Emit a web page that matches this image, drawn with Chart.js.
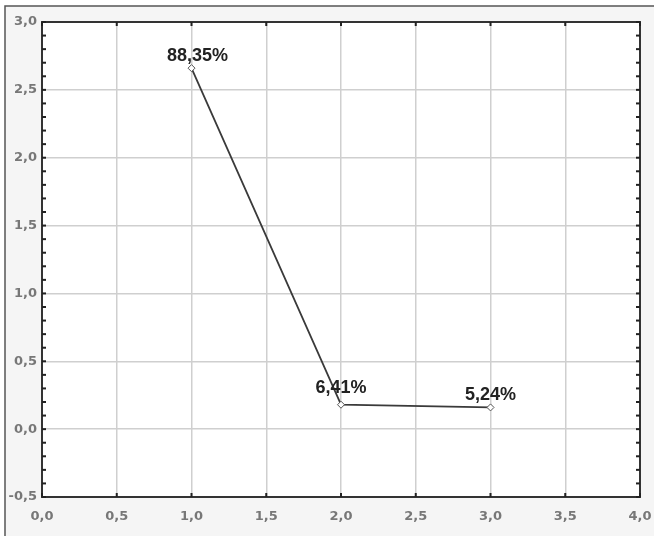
<!DOCTYPE html>
<html>
<head>
<meta charset="utf-8">
<script src="https://cdn.jsdelivr.net/npm/chart.js@4"></script>
<style>
  html, body { margin: 0; padding: 0; background: #ffffff; }
  #wrap { width: 654px; height: 536px; }
</style>
</head>
<body>
<div id="wrap"><canvas id="myChart" width="654" height="536"></canvas></div>
<script>
// data
const xValues = [1, 2, 3];
const yValues = [2.66, 0.18, 0.16];
const pointLabels = ["88,35%", "6,41%", "5,24%"];

// axis setup
const xMin = 0, xMax = 4, xStep = 0.5;
const yMin = -0.5, yMax = 3.0, yStep = 0.5;

const fmt = (v) => v.toFixed(1).replace(".", ",");

// background, frame, minor ticks and point labels
const decorPlugin = {
  id: "decor",
  beforeDraw(chart) {
    const ctx = chart.ctx;
    const a = chart.chartArea;
    ctx.save();
    ctx.fillStyle = "#ffffff";
    ctx.fillRect(0, 0, chart.width, chart.height);
    ctx.fillStyle = "#f5f5f5";
    ctx.fillRect(5, 6, chart.width - 5, chart.height - 6);
    ctx.strokeStyle = "#555";
    ctx.lineWidth = 1.5;
    ctx.beginPath();
    ctx.moveTo(5, chart.height);
    ctx.lineTo(5, 6);
    ctx.lineTo(chart.width, 6);
    ctx.stroke();
    ctx.fillStyle = "#ffffff";
    ctx.fillRect(a.left, a.top, a.right - a.left, a.bottom - a.top);
    ctx.restore();
  },
  afterDraw(chart) {
    const ctx = chart.ctx;
    const a = chart.chartArea;
    const xs = chart.scales.x, ys = chart.scales.y;
    ctx.save();
    // frame
    ctx.strokeStyle = "#333";
    ctx.lineWidth = 2;
    ctx.strokeRect(a.left, a.top, a.right - a.left, a.bottom - a.top);
    // minor ticks on left/right
    ctx.fillStyle = "#222";
    for (let i = 0; i <= 35; i++) {
      const py = ys.getPixelForValue(yMin + i * 0.1);
      ctx.fillRect(a.left, py - 1, 4, 2);
      ctx.fillRect(a.right - 4, py - 1, 4, 2);
    }
    // ticks on top/bottom
    for (let i = 0; i <= 8; i++) {
      const px = xs.getPixelForValue(xMin + i * xStep);
      ctx.fillRect(px - 1, a.bottom - 4, 2, 4);
      ctx.fillRect(px - 1, a.top, 2, 4);
    }
    // point labels
    const meta = chart.getDatasetMeta(0);
    ctx.font = "bold 18px 'Liberation Sans', Arial, sans-serif";
    ctx.fillStyle = "#222";
    ctx.textAlign = "center";
    ctx.textBaseline = "alphabetic";
    meta.data.forEach((pt, i) => {
      ctx.fillText(pointLabels[i], pt.x + (i === 0 ? 6 : 0), pt.y - (i === 1 ? 12 : 7));
    });
    ctx.restore();
  }
};

const data = {
  datasets: [
    {
      data: xValues.map((x, i) => ({ x: x, y: yValues[i] })),
      borderColor: "#3a3a3a",
      borderWidth: 1.8,
      pointStyle: "rectRot",
      pointRadius: 3.5,
      pointBackgroundColor: "#ffffff",
      pointBorderColor: "#555",
      pointBorderWidth: 1,
      tension: 0,
    },
  ],
};

const tickFont = { family: "'DejaVu Sans', sans-serif", size: 13, weight: "bold" };

const options = {
  responsive: false,
  animation: false,
  layout: { padding: { left: 0, top: 22, right: 14, bottom: 0 } },
  plugins: { legend: { display: false }, tooltip: { enabled: false } },
  scales: {
    x: {
      type: "linear",
      min: xMin,
      max: xMax,
      ticks: { stepSize: xStep, color: "#777777", font: tickFont, padding: 12, callback: (v) => fmt(v) },
      grid: { color: "#cfcfcf", lineWidth: 1.5, drawTicks: false },
      border: { display: false },
      afterFit: (s) => { s.height = 39; s.paddingLeft = 0; s.paddingRight = 0; },
    },
    y: {
      type: "linear",
      min: yMin,
      max: yMax,
      ticks: { stepSize: yStep, color: "#777777", font: tickFont, padding: 5, callback: (v) => fmt(v) },
      grid: { color: "#cfcfcf", lineWidth: 1.5, drawTicks: false },
      border: { display: false },
      afterFit: (s) => { s.width = 42; s.paddingTop = 0; s.paddingBottom = 0; },
    },
  },
};

const config = {
  type: "line",
  data: data,
  options: options,
  plugins: [decorPlugin],
};

const myChart = new Chart(document.getElementById("myChart"), config);
</script>
</body>
</html>
